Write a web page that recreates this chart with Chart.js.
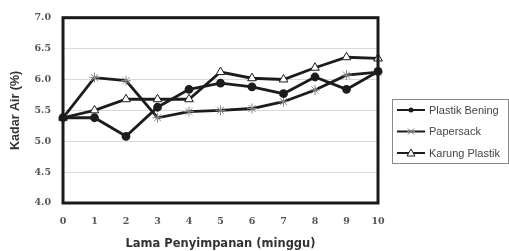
<!DOCTYPE html>
<html>
<head>
<meta charset="utf-8">
<script src="https://cdn.jsdelivr.net/npm/chart.js@4.4.0/dist/chart.umd.min.js"></script>
<style>
  html, body { margin: 0; padding: 0; background: #fff; }
  #wrap { position: relative; width: 509px; height: 251px; }
</style>
</head>
<body>
<div id="wrap"><canvas id="chart" width="509" height="251"></canvas></div>
<script>
const weeks = ['0', '1', '2', '3', '4', '5', '6', '7', '8', '9', '10'];
const plastikBening = [5.38, 5.38, 5.08, 5.55, 5.84, 5.94, 5.88, 5.77, 6.04, 5.84, 6.13];
const papersack = [5.38, 6.03, 5.98, 5.38, 5.48, 5.50, 5.53, 5.64, 5.83, 6.07, 6.12];
const karungPlastik = [5.38, 5.50, 5.68, 5.68, 5.68, 6.12, 6.02, 6.00, 6.19, 6.36, 6.34];
const seriesNames = ['Plastik Bening', 'Papersack', 'Karung Plastik'];
const yTicks = [4.0, 4.5, 5.0, 5.5, 6.0, 6.5, 7.0];

const ink = '#1c1c1c';

// draws the marker used in the legend
function drawMarker(ctx, style, x, y) {
    ctx.save();
    ctx.strokeStyle = ink;
    ctx.lineWidth = 1;
    if (style === 'circle') {
        ctx.fillStyle = ink;
        ctx.beginPath();
        ctx.arc(x, y, 2.5, 0, Math.PI * 2);
        ctx.fill();
    } else if (style === 'star') {
        ctx.strokeStyle = '#777';
        ctx.beginPath();
        ctx.moveTo(x - 3, y - 3); ctx.lineTo(x + 3, y + 3);
        ctx.moveTo(x - 3, y + 3); ctx.lineTo(x + 3, y - 3);
        ctx.moveTo(x - 4, y); ctx.lineTo(x + 4, y);
        ctx.stroke();
    } else {
        ctx.fillStyle = '#fff';
        ctx.beginPath();
        ctx.moveTo(x, y - 4); ctx.lineTo(x + 4, y + 3); ctx.lineTo(x - 4, y + 3);
        ctx.closePath();
        ctx.fill();
        ctx.stroke();
    }
    ctx.restore();
}

const framePlugin = {
    id: 'frame',
    afterDatasetsDraw(chart) {
        const { ctx, chartArea: a } = chart;
        ctx.save();
        ctx.strokeStyle = '#1a1a1a';
        ctx.lineWidth = 3;
        ctx.strokeRect(a.left, a.top, a.right - a.left, a.bottom - a.top);
        ctx.restore();
    },
    afterDraw(chart) {
        const ctx = chart.ctx;
        const boxX = 392, boxY = 99, boxW = 116, boxH = 64;
        ctx.save();
        ctx.strokeStyle = '#8a8a8a';
        ctx.lineWidth = 1;
        ctx.strokeRect(boxX + 0.5, boxY + 0.5, boxW, boxH);
        const styles = ['circle', 'star', 'triangle'];
        chart.data.datasets.forEach((ds, i) => {
            const y = 110 + i * 21.5;
            ctx.strokeStyle = ink;
            ctx.lineWidth = 2;
            ctx.beginPath();
            ctx.moveTo(397, y);
            ctx.lineTo(425, y);
            ctx.stroke();
            drawMarker(ctx, styles[i], 411, y);
            ctx.fillStyle = '#444';
            ctx.font = '11px "Liberation Sans", sans-serif';
            ctx.textBaseline = 'middle';
            ctx.fillText(ds.label, 429, y + 0.5);
        });
        ctx.restore();
    }
};

new Chart(document.getElementById('chart'), {
    type: 'line',
    data: {
        labels: weeks,
        datasets: [
            {
                label: seriesNames[0],
                data: plastikBening,
                borderColor: ink,
                borderWidth: 2.8,
                pointStyle: 'circle',
                pointRadius: 3,
                pointBackgroundColor: ink,
                pointBorderColor: ink,
                tension: 0
            },
            {
                label: seriesNames[1],
                data: papersack,
                borderColor: ink,
                borderWidth: 2.8,
                pointStyle: 'star',
                pointRadius: 5,
                pointBorderWidth: 1,
                pointBackgroundColor: '#fff',
                pointBorderColor: '#888',
                tension: 0
            },
            {
                label: seriesNames[2],
                data: karungPlastik,
                borderColor: ink,
                borderWidth: 2.8,
                pointStyle: 'triangle',
                pointRadius: 5,
                pointBorderWidth: 1,
                pointBackgroundColor: '#fff',
                pointBorderColor: ink,
                tension: 0
            }
        ]
    },
    options: {
        responsive: false,
        animation: false,
        layout: { padding: { left: 0, right: 131, top: 12, bottom: 0 } },
        plugins: {
            legend: { display: false },
            tooltip: { enabled: false }
        },
        scales: {
            x: {
                type: 'category',
                offset: false,
                grid: { display: false, drawTicks: false },
                border: { display: false },
                ticks: {
                    padding: 13,
                    color: '#555',
                    font: { family: '"DejaVu Serif", serif', size: 9.5, weight: 'bold' }
                },
                title: {
                    display: true,
                    text: 'Lama Penyimpanan (minggu)',
                    color: '#333',
                    padding: { top: 7, bottom: 0 },
                    font: { family: '"DejaVu Sans", sans-serif', size: 11.5, weight: 'bold' }
                },
                afterFit(scale) { scale.height = 48; }
            },
            y: {
                min: 4.0,
                max: 7.0,
                afterBuildTicks(scale) {
                    scale.ticks = yTicks.map(v => ({ value: v }));
                },
                grid: { color: '#d9d9d9', lineWidth: 1, drawTicks: false },
                border: { display: false },
                ticks: {
                    padding: 12,
                    color: '#555',
                    callback: v => v.toFixed(1),
                    font: { family: '"DejaVu Serif", serif', size: 9.5, weight: 'bold' }
                },
                title: {
                    display: true,
                    text: 'Kadar Air (%)',
                    color: '#333',
                    padding: { top: 8, bottom: 0 },
                    font: { family: '"Liberation Sans", sans-serif', size: 12.5, weight: 'bold' }
                },
                afterFit(scale) { scale.width = 63; }
            }
        }
    },
    plugins: [framePlugin]
});
</script>
</body>
</html>
